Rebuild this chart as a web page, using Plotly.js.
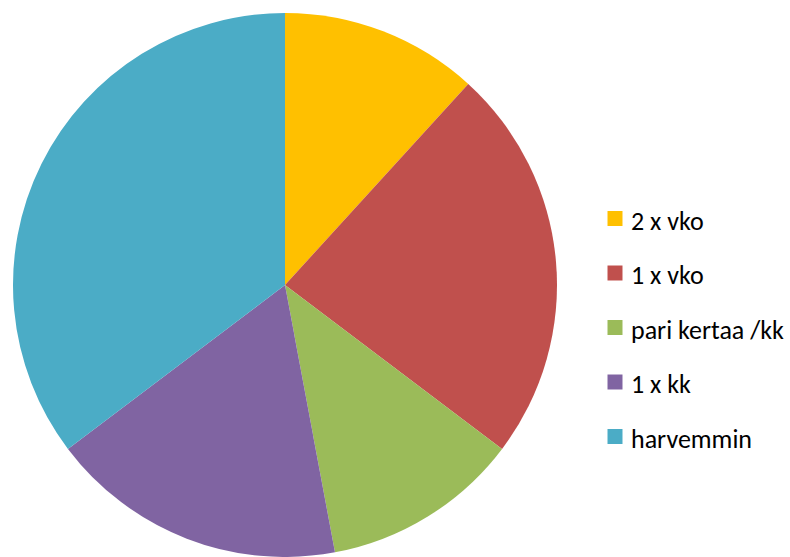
<!DOCTYPE html>
<html>
<head>
<meta charset="utf-8">
<script src="https://cdn.plot.ly/plotly-3.0.1.min.js"></script>
<style>html,body{margin:0;padding:0;background:#fff;}#chart{width:790px;height:557px;}</style>
</head>
<body>
<div id="chart"></div>
<script>
const categories = ["2 x vko", "1 x vko", "pari kertaa /kk", "1 x kk", "harvemmin"];
const values = [4, 8, 4, 6, 12];
const colors = ["#FFC000", "#C0504D", "#9BBB59", "#8064A2", "#4BACC6"];

const W = 790, H = 557;
const cx = 285, cy = 285, r = 272;

const trace = {
  type: "pie",
  labels: categories,
  values: values,
  marker: {colors: colors, line: {width: 0}},
  sort: false,
  direction: "clockwise",
  rotation: 0,
  textinfo: "none",
  hoverinfo: "label+value+percent",
  showlegend: false,
  domain: {x: [(cx - r) / W, (cx + r) / W], y: [(H - cy - r) / H, (H - cy + r) / H]}
};

// custom legend
const legX = 607.5, legY0 = 218.5, legStep = 54.5, sq = 15;
const shapes = [], annotations = [];
categories.forEach((c, i) => {
  const y = legY0 + i * legStep;
  shapes.push({type: "rect", xref: "paper", yref: "paper",
    x0: legX / W, x1: (legX + sq) / W, y0: 1 - (y + sq / 2) / H, y1: 1 - (y - sq / 2) / H,
    fillcolor: colors[i], line: {width: 0}});
  annotations.push({xref: "paper", yref: "paper", x: (legX + sq + 6) / W, y: 1 - (y + 2) / H,
    xanchor: "left", yanchor: "middle", showarrow: false, text: c,
    font: {family: "Carlito, Open Sans, Liberation Sans, sans-serif", size: 26, color: "#000"}});
});

const layout = {
  width: W, height: H,
  margin: {l: 0, r: 0, t: 0, b: 0},
  paper_bgcolor: "#fff",
  shapes: shapes,
  annotations: annotations
};
Plotly.newPlot("chart", [trace], layout, {displayModeBar: false, staticPlot: true});
</script>
</body>
</html>
